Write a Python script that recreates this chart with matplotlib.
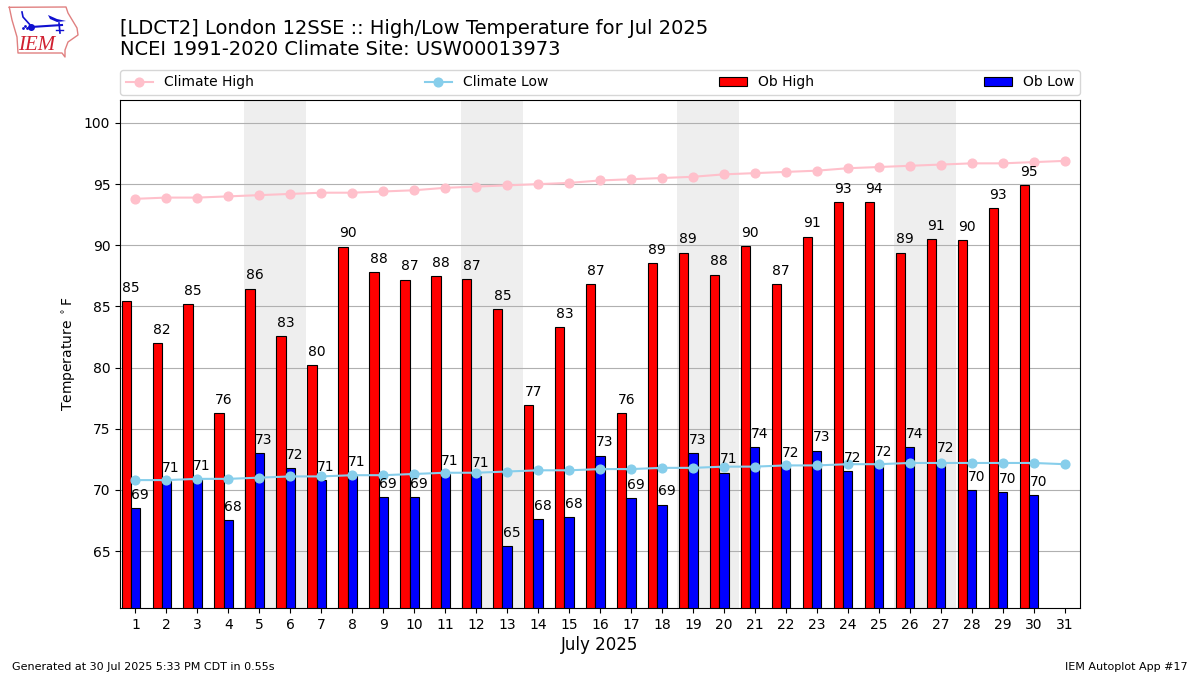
import matplotlib
matplotlib.use("Agg")
import matplotlib.pyplot as plt

days = list(range(1, 32))
ob_days = list(range(1, 31))
ob_high = [85.45,82.0,85.2,76.3,86.45,82.6,80.2,89.9,87.8,87.2,87.5,87.25,84.8,76.95,83.3,86.8,76.3,88.55,89.4,87.6,89.95,86.8,90.7,93.5,93.5,89.4,90.5,90.4,93.05,94.9]
ob_low = [68.5,70.7,70.9,67.5,73.0,71.8,70.8,71.2,69.4,69.4,71.3,71.1,65.4,67.6,67.8,72.8,69.3,68.8,73.0,71.4,73.5,71.9,73.2,71.55,72.0,73.5,72.3,70.0,69.8,69.6]
high_labels = [85,82,85,76,86,83,80,90,88,87,88,87,85,77,83,87,76,89,89,88,90,87,91,93,94,89,91,90,93,95]
low_labels = [69,71,71,68,73,72,71,71,69,69,71,71,65,68,68,73,69,69,73,71,74,72,73,72,72,74,72,70,70,70]
climate_high = [93.8,93.9,93.9,94.0,94.1,94.2,94.3,94.3,94.4,94.5,94.7,94.8,94.9,95.0,95.1,95.3,95.4,95.5,95.6,95.8,95.9,96.0,96.1,96.3,96.4,96.5,96.6,96.7,96.7,96.8,96.9]
climate_low = [70.8,70.8,70.9,70.9,71.0,71.1,71.1,71.2,71.2,71.3,71.4,71.4,71.5,71.6,71.6,71.7,71.7,71.8,71.8,71.9,71.9,72.0,72.0,72.1,72.1,72.2,72.2,72.2,72.2,72.2,72.1]
weekends = [(5, 6), (12, 13), (19, 20), (26, 27)]

W, H = 1200, 675
fig = plt.figure(figsize=(12, 6.75), dpi=100)
ax = fig.add_axes([120/W, 1-608/H, 960/W, 508/H])

for a, b in weekends:
    ax.axvspan(a-0.5, b+0.5, color="#eeeeee", lw=0, zorder=0)

ax.bar([d-0.3 for d in ob_days], ob_high, width=0.3, color="red", edgecolor="black", lw=0.8, label="Ob High", zorder=2)
ax.bar([d for d in ob_days], ob_low, width=0.3, color="blue", edgecolor="black", lw=0.8, label="Ob Low", zorder=2)
ax.plot(days, climate_high, color="pink", marker="o", ms=6.3, lw=1.5, label="Climate High", zorder=3)
ax.plot(days, climate_low, color="skyblue", marker="o", ms=6.3, lw=1.5, label="Climate Low", zorder=3)

for d, v, t in zip(ob_days, ob_high, high_labels):
    ax.annotate(str(t), (d-0.15, v), xytext=(0, 4.5), textcoords="offset points", ha="center", va="bottom", fontsize=10, zorder=4)
for d, v, t in zip(ob_days, ob_low, low_labels):
    ax.annotate(str(t), (d+0.15, v), xytext=(0, 4.5), textcoords="offset points", ha="center", va="bottom", fontsize=10, zorder=4)

ax.set_xlim(0.5, 31.5)
ax.set_ylim(60.34, 101.88)
ax.set_xticks(days)
ax.set_yticks(range(65, 101, 5))
ax.yaxis.grid(True, color="#b0b0b0", lw=0.8, zorder=1)
ax.set_axisbelow(True)
ax.set_xlabel("July 2025", fontsize=12, labelpad=3.2)
ax.set_ylabel(r"Temperature $^\circ$F")

h, l = ax.get_legend_handles_labels()
order = [l.index(x) for x in ["Climate High", "Climate Low", "Ob High", "Ob Low"]]
ax.legend([h[i] for i in order], [l[i] for i in order], ncol=4, mode="expand", loc="lower left",
          bbox_to_anchor=(0, 1.01, 1, 0.05), borderaxespad=0, fontsize=10, framealpha=0.8)

fig.text(120/W, 1-39/H, "[LDCT2] London 12SSE :: High/Low Temperature for Jul 2025\nNCEI 1991-2020 Climate Site: USW00013973",
         fontsize=14, va="center", ha="left", linespacing=1.1)
fig.text(12/W, 1-667/H, "Generated at 30 Jul 2025 5:33 PM CDT in 0.55s", fontsize=8, va="center")
fig.text(1188/W, 1-667/H, "IEM Autoplot App #17", fontsize=8, va="center", ha="right")

# IEM logo
lg = fig.add_axes([0, 1-60/H, 80/W, 60/H])
lg.set_xlim(0, 80); lg.set_ylim(60, 0); lg.axis("off")
lg.plot([9.3,66,68,77,78,68,65,65,62,18,17,12,9.3],
        [7.3,7,13,28,35,42,50,57,53,53,37,20,7.3], color="#e08080", lw=1)
lg.plot([31,62],[27,25], color="#1010d0", lw=1.5)
lg.plot([31],[26.5], "o", color="#1010d0", ms=4)
lg.fill([48,57,66,57,50],[15,19,21,22,19], color="#1010d0", lw=0)
lg.plot([59,60],[23,33], color="#1010d0", lw=1.2)
lg.plot([56,63],[30,30], color="#1010d0", lw=1)
lg.plot([32,23,22],[27,17,12], color="#1010d0", lw=1.2)
lg.plot([23,25,27],[28,26,28], ".", color="#1010d0", ms=2)
lg.text(37, 45, "IEM", color="#d02030", fontsize=15, family="Liberation Serif", style="italic", ha="center", va="center")

fig.savefig("out.png", dpi=100)
